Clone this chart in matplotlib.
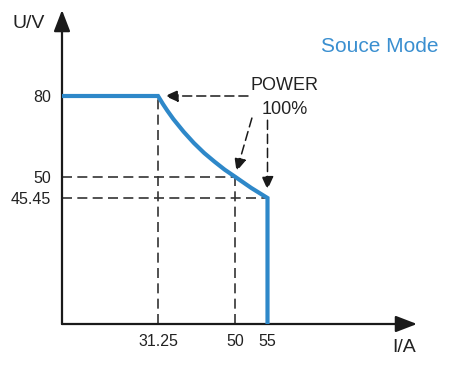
import numpy as np
import matplotlib
matplotlib.use("Agg")
import matplotlib.pyplot as plt

# ---- data ----
current = [0, 31.25, 32.5, 33.5, 35, 37.5, 40, 42.5, 45, 47.5, 50, 52.5, 55, 55]
voltage = [80, 80, 76.9, 74.6, 71.4, 66.7, 62.5, 58.8, 55.6, 52.6, 50, 47.6, 45.45, 0]
x_ticks = [31.25, 50, 55]
x_tick_labels = ["31.25", "50", "55"]
y_ticks = [45.45, 50, 80]
y_tick_labels = ["45.45", "50", "80"]
title_text = "Souce Mode"
power_label = ["POWER", "100%"]

plt.rcParams['font.family'] = ['Liberation Sans', 'DejaVu Sans']

W, H = 459, 366
fig = plt.figure(figsize=(W / 100, H / 100), dpi=100)
ax = fig.add_axes([62 / W, (H - 324) / H, (417 - 62) / W, (324 - 10) / H])

# schematic (non-uniform) axis scales, as in the reference drawing
xn_d = [0, 31.25, 50, 55, 80]
xn_p = [0, 96, 173, 205.5, 355]
yn_d = [0, 45.45, 50, 80, 110]
yn_p = [0, 126, 147.3, 228, 314]
ax.set_xscale('function', functions=(lambda v: np.interp(v, xn_d, xn_p),
                                     lambda p: np.interp(p, xn_p, xn_d)))
ax.set_yscale('function', functions=(lambda v: np.interp(v, yn_d, yn_p),
                                     lambda p: np.interp(p, yn_p, yn_d)))
ax.set_xlim(0, 80)
ax.set_ylim(0, 110)

for s in ax.spines.values():
    s.set_visible(False)

blue = '#2E88C9'
dk = '#333333'
dash = (0, (6, 3.2))

# guide dashed lines
ax.plot([x_ticks[0], x_ticks[0]], [0, 80], color=dk, lw=1.2, ls=dash)
ax.plot([x_ticks[1], x_ticks[1]], [0, 50], color=dk, lw=1.2, ls=dash)
ax.plot([0, 50], [50, 50], color=dk, lw=1.2, ls=dash)
ax.plot([0, 55], [45.45, 45.45], color=dk, lw=1.2, ls=dash)

# main curve
ax.plot(current, voltage, color=blue, lw=3, solid_joinstyle='miter',
        solid_capstyle='butt', zorder=5, clip_on=False)

# axes arrows
axis_arrow = dict(arrowstyle='-|>,head_length=1.3,head_width=0.5', color='#1a1a1a',
                  lw=1.6, shrinkA=0, shrinkB=0)
ax.annotate('', xy=(1, 0), xytext=(0, 0), xycoords='axes fraction',
            arrowprops=axis_arrow, annotation_clip=False)
ax.annotate('', xy=(0, 1), xytext=(0, 0), xycoords='axes fraction',
            arrowprops=axis_arrow, annotation_clip=False)

# power annotations
ann = dict(arrowstyle='-|>,head_length=0.8,head_width=0.36', color='#1a1a1a',
           lw=1.1, linestyle=dash, shrinkA=0)
ax.annotate('', xy=(31.25, 80), xytext=(52, 80),
            arrowprops=dict(ann, shrinkB=5))
ax.annotate('', xy=(50, 50), xytext=(52.6, 71.8),
            arrowprops=dict(ann, shrinkB=4))
ax.annotate('', xy=(55, 45.45), xytext=(55, 71),
            arrowprops=dict(ann, shrinkB=6))

# ticks
ax.set_xticks(x_ticks, x_tick_labels)
ax.set_yticks(y_ticks, y_tick_labels)
ax.tick_params(axis='x', length=0, pad=7, labelsize=11.5, labelcolor='#222222')
ax.tick_params(axis='y', length=0, pad=8, labelsize=11.5, labelcolor='#222222')
ax.minorticks_off()

def ftext(px, py, s, **kw):
    fig.text(px / W, 1 - py / H, s, ha='center', va='center', **kw)

ftext(29, 24, "U/V", fontsize=14, color='#222222')
ftext(404, 347, "I/A", fontsize=14, color='#222222')
ftext(380, 46, title_text, fontsize=15, color='#3A8FD0')
ftext(284, 85, power_label[0], fontsize=13, color='#222222')
ftext(285, 110, power_label[1], fontsize=13, color='#222222')

fig.savefig('out.png', dpi=100)
